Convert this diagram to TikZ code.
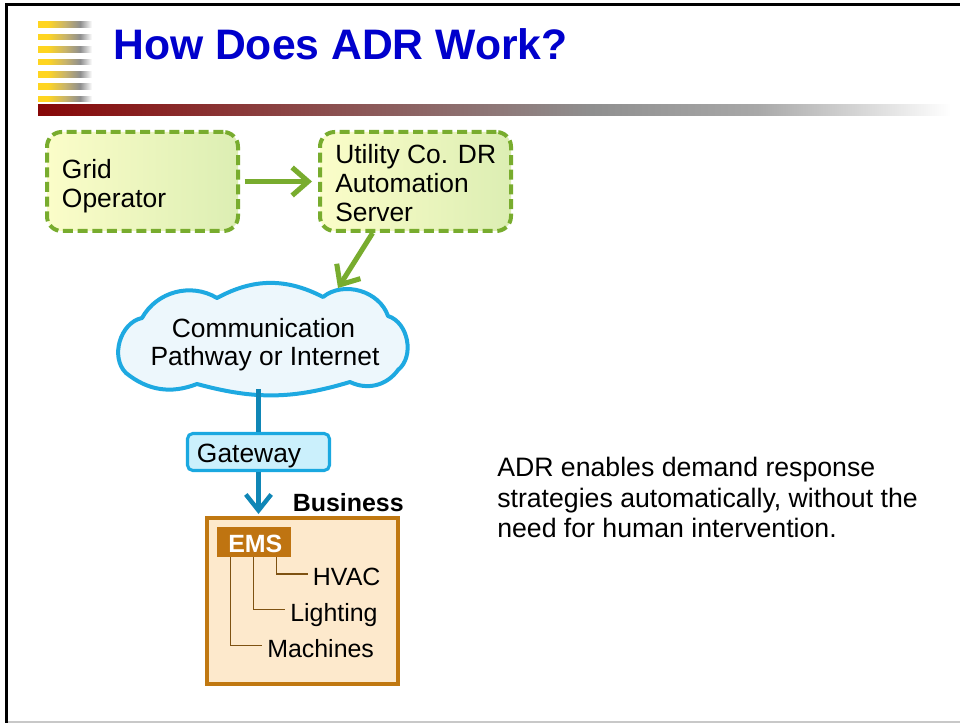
\documentclass[tikz,border=0pt]{standalone}
\usepackage{fontspec}
\setmainfont{Liberation Sans}
\usetikzlibrary{arrows.meta,fit,calc}

\definecolor{titleblue}{HTML}{0000CC}
\definecolor{dashgreen}{HTML}{78AC2E}
\definecolor{boxyellow}{HTML}{FBFDC9}
\definecolor{boxgreen}{HTML}{DCEEB3}
\definecolor{cloudblue}{HTML}{1EA9E1}
\definecolor{cloudfill}{HTML}{EDF7FC}
\definecolor{linkblue}{HTML}{0F86B6}
\definecolor{gwedge}{HTML}{1AA8E0}
\definecolor{gwfill}{HTML}{CBF0FC}
\definecolor{bizfill}{HTML}{FDE9CC}
\definecolor{bizedge}{HTML}{C07811}
\definecolor{emsfill}{HTML}{BF7411}
\definecolor{treeline}{HTML}{7E5212}
\definecolor{barred}{HTML}{870707}
\definecolor{bargray}{HTML}{8F8F8F}
\definecolor{barlight}{HTML}{A8A8A8}
\definecolor{stripeyellow}{HTML}{FFD520}
\definecolor{stripetan}{HTML}{C9B46A}
\definecolor{framegray}{HTML}{C8C8C8}

% header rule: dark red fading through grey to white
\pgfdeclarehorizontalshading{titlebar}{100bp}{color(0bp)=(barred); color(25bp)=(barred);
  color(55bp)=(bargray); color(64bp)=(barlight); color(74.5bp)=(white); color(100bp)=(white)}
% short stripes beside the title
\pgfdeclarehorizontalshading{stripe}{100bp}{color(0bp)=(stripeyellow); color(25bp)=(stripeyellow);
  color(34bp)=(stripeyellow); color(50bp)=(stripetan); color(64bp)=(bargray); color(75bp)=(white);
  color(100bp)=(white)}

\tikzset{
  txt/.style={font=\fontsize{19.8}{22}\selectfont, inner sep=0, anchor=base west},
  desc/.style={font=\fontsize{20}{22}\selectfont, inner sep=0, anchor=base west},
  bizbold/.style={font=\fontsize{18.7}{21}\selectfont\bfseries, inner sep=0, anchor=base west},
  bizplain/.style={font=\fontsize{18.7}{21}\selectfont, inner sep=0, anchor=base west},
  greenbox/.style={draw=dashgreen, line width=3pt, dash pattern=on 7.5pt off 3.5pt,
    rounded corners=11pt, left color=boxyellow, right color=boxgreen, inner sep=0},
  greenarrow/.style={draw=dashgreen, line width=3.8pt,
    -{Straight Barb[length=12pt,width=21pt]}},
  bluearrow/.style={draw=linkblue, line width=3.3pt,
    -{Straight Barb[length=12pt,width=19pt]}},
  tree/.style={draw=treeline, line width=1pt},
  cloudline/.style={draw=cloudblue, line width=3pt, fill=cloudfill, line join=round},
}

\begin{document}
\begin{tikzpicture}[x=0.75pt, y=-0.75pt]
\useasboundingbox (0,0) rectangle (960,723);
\fill[white] (0,0) rectangle (960,723);

% slide frame
\draw[line width=2.3pt, black] (6.5,723) -- (6.5,4.2) -- (960,4.2);
\draw[line width=1.1pt, framegray] (8,722) -- (960,722);

% header decoration
\foreach \i in {0,...,6}
  \shade[shading=stripe] (38,{22+12.4*\i}) rectangle (92,{27.5+12.4*\i});
\shade[shading=titlebar] (38,105) rectangle (960,116);
\node[anchor=base west, inner sep=0, text=titleblue,
      font=\fontsize{32}{36}\selectfont\bfseries] (title) at (113,60) {How Does ADR Work?};

% top row boxes
\node[greenbox, fit={(47,132)(238,231)}] (grid) {};
\node[txt] (g1) at (61.7,179) {Grid};
\node[txt] (g2) at (61.7,208) {Operator};

\node[greenbox, fit={(320,132)(511,231)}] (util) {};
\node[txt] (u1) at (335,164) {Utility Co. DR};
\node[txt] (u2) at (335,193) {Automation};
\node[txt] (u3) at (335,221.5) {Server};

% cloud outline built from puffs
\path[cloudline] (126,373)
  to[bend left=62] (142,318)
  to[bend left=46] (217,298)
  to[bend left=28] (323,297)
  to[bend left=55] (388,316)
  to[bend left=62] (398,370)
  to[bend left=40] (350,382)
  to[bend left=16] (197,384)
  to[bend left=30] cycle;
\coordinate (cloudtop) at (338,288);
\coordinate (cloudbottom) at (258,389);
\node[txt, anchor=base] (c1) at (263.5,338) {Communication};
\node[txt, anchor=base] (c2) at (265,366) {Pathway or Internet};

% gateway
\node[draw=gwedge, line width=2.3pt, fill=gwfill, rounded corners=4pt, inner sep=0,
      fit={(187.5,433.5)(329.5,470.5)}] (gw) {};
\node[txt] (gwt) at (196.7,462.5) {Gateway};

% business premises
\node[bizbold] (bizlabel) at (292.5,511.5) {Business};
\node[draw=bizedge, line width=3pt, fill=bizfill, inner sep=0,
      fit={(207,518)(398,684)}] (biz) {};
\node[fill=emsfill, inner sep=0, fit={(217,527)(291,557)}] (ems) {};
\node[bizbold, text=white] (emst) at (228,552.5) {EMS};
\node[bizplain] (hvac) at (312.7,585) {HVAC};
\node[bizplain] (lig) at (290,621.5) {Lighting};
\node[bizplain] (mach) at (267,657) {Machines};

% EMS control lines
\draw[tree] ($(ems.south west)+(60,0)$) |- ($(hvac.base west)+(-4.5,-11)$);
\draw[tree] ($(ems.south west)+(36.5,0)$) |- ($(lig.base west)+(-5,-12)$);
\draw[tree] ($(ems.south west)+(13.5,0)$) |- ($(mach.base west)+(-5,-11.5)$);

% connectors
\draw[greenarrow, shorten <=3.5pt, shorten >=4.5pt] (grid.east) -- (util.west);
\draw[greenarrow] ($(util.south west)!0.28!(util.south east)$) -- (cloudtop);
\draw[draw=linkblue, line width=3.3pt] (gw.north) -- (gw.north |- cloudbottom);
\draw[bluearrow] (gw.south) -- ($(gw.south |- biz.north)+(0,-2)$);

% description
\node[desc] (d1) at (497,476.5) {ADR enables demand response};
\node[desc] (d2) at (497,507) {strategies automatically, without the};
\node[desc] (d3) at (497,537.5) {need for human intervention.};
\end{tikzpicture}
\end{document}
